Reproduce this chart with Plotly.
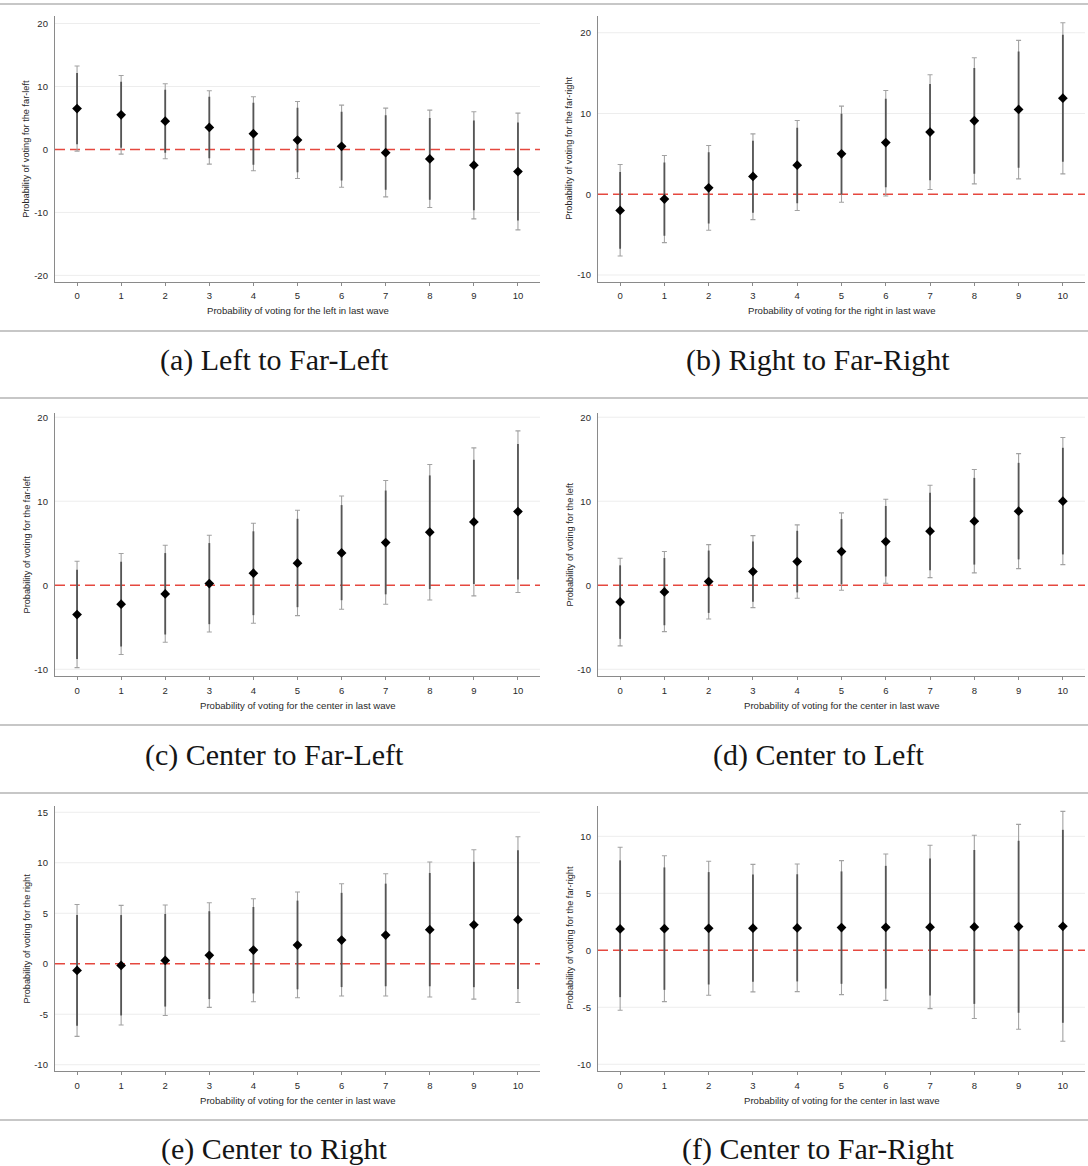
import plotly.graph_objects as go

W, H = 1088, 1166

# ---------------- data ----------------
x_vals = list(range(11))

# (a) Left to Far-Left
a_est  = [6.5, 5.5, 4.5, 3.5, 2.5, 1.5, 0.5, -0.5, -1.5, -2.5, -3.5]
a_hi95 = [13.25, 11.76, 10.44, 9.33, 8.37, 7.63, 7.05, 6.57, 6.25, 5.99, 5.78]
a_lo95 = [-0.26, -0.74, -1.48, -2.33, -3.39, -4.61, -5.99, -7.52, -9.22, -11.02, -12.77]
a_hi90 = [12.16, 10.75, 9.48, 8.39, 7.42, 6.64, 6.0, 5.43, 5.0, 4.62, 4.29]
a_lo90 = [0.83, 0.26, -0.52, -1.39, -2.44, -3.63, -4.94, -6.39, -7.98, -9.65, -11.28]

# (b) Right to Far-Right
b_est  = [-2.0, -0.6, 0.8, 2.2, 3.6, 5.0, 6.4, 7.7, 9.1, 10.5, 11.9]
b_hi95 = [3.68, 4.79, 6.03, 7.48, 9.13, 10.91, 12.85, 14.79, 16.9, 19.05, 21.24]
b_lo95 = [-7.64, -5.99, -4.46, -3.14, -2.02, -0.99, -0.21, 0.58, 1.28, 1.9, 2.52]
b_hi90 = [2.75, 3.93, 5.19, 6.63, 8.24, 9.96, 11.81, 13.65, 15.64, 17.67, 19.74]
b_lo90 = [-6.75, -5.13, -3.61, -2.28, -1.12, -0.03, 0.85, 1.73, 2.54, 3.28, 4.03]

# (c) Center to Far-Left
c_est  = [-3.49, -2.26, -1.03, 0.2, 1.43, 2.62, 3.85, 5.08, 6.31, 7.54, 8.77]
c_hi95 = [2.86, 3.77, 4.76, 5.95, 7.38, 8.93, 10.63, 12.46, 14.37, 16.35, 18.37]
c_lo95 = [-9.8, -8.25, -6.79, -5.56, -4.52, -3.61, -2.86, -2.26, -1.75, -1.27, -0.87]
c_hi90 = [1.84, 2.8, 3.83, 5.02, 6.42, 7.91, 9.54, 11.27, 13.07, 14.93, 16.82]
c_lo90 = [-8.79, -7.29, -5.86, -4.63, -3.56, -2.61, -1.78, -1.08, -0.45, 0.15, 0.68]

# (d) Center to Left
d_est  = [-1.98, -0.79, 0.44, 1.63, 2.82, 4.01, 5.2, 6.43, 7.62, 8.81, 10.0]
d_hi95 = [3.21, 4.01, 4.84, 5.91, 7.18, 8.61, 10.24, 11.9, 13.77, 15.67, 17.58]
d_lo95 = [-7.22, -5.52, -4.01, -2.66, -1.55, -0.6, 0.24, 0.91, 1.47, 1.98, 2.46]
d_hi90 = [2.37, 3.24, 4.13, 5.22, 6.48, 7.87, 9.43, 11.02, 12.78, 14.57, 16.36]
d_lo90 = [-6.38, -4.76, -3.29, -1.97, -0.85, 0.14, 1.04, 1.8, 2.46, 3.08, 3.67]

# (e) Center to Right
e_est  = [-0.66, -0.17, 0.33, 0.83, 1.35, 1.85, 2.34, 2.84, 3.37, 3.86, 4.36]
e_hi95 = [5.87, 5.78, 5.81, 6.04, 6.44, 7.1, 7.92, 8.91, 10.07, 11.29, 12.57]
e_lo95 = [-7.19, -6.07, -5.12, -4.32, -3.76, -3.37, -3.2, -3.2, -3.3, -3.5, -3.83]
e_hi90 = [4.82, 4.82, 4.93, 5.2, 5.62, 6.25, 7.02, 7.93, 8.99, 10.09, 11.25]
e_lo90 = [-6.14, -5.12, -4.24, -3.5, -2.94, -2.53, -2.31, -2.23, -2.23, -2.32, -2.51]

# (f) Center to Far-Right
f_est  = [1.87, 1.9, 1.93, 1.94, 1.96, 1.99, 2.02, 2.03, 2.05, 2.08, 2.1]
f_hi95 = [9.04, 8.3, 7.81, 7.54, 7.57, 7.87, 8.45, 9.21, 10.09, 11.05, 12.19]
f_lo95 = [-5.26, -4.5, -3.95, -3.65, -3.63, -3.89, -4.39, -5.12, -5.99, -6.93, -7.98]
f_hi90 = [7.89, 7.27, 6.86, 6.64, 6.67, 6.92, 7.41, 8.05, 8.8, 9.61, 10.57]
f_lo90 = [-4.11, -3.47, -3.0, -2.75, -2.73, -2.94, -3.36, -3.97, -4.7, -5.48, -6.36]

y_titles = [
    "Probability of voting for the far-left",
    "Probability of voting for the far-right",
    "Probability of voting for the far-left",
    "Probability of voting for the left",
    "Probability of voting for the right",
    "Probability of voting for the far-right",
]
x_titles = [
    "Probability of voting for the left in last wave",
    "Probability of voting for the right in last wave",
    "Probability of voting for the center in last wave",
    "Probability of voting for the center in last wave",
    "Probability of voting for the center in last wave",
    "Probability of voting for the center in last wave",
]
captions = [
    "(a) Left to Far-Left",
    "(b) Right to Far-Right",
    "(c) Center to Far-Left",
    "(d) Center to Left",
    "(e) Center to Right",
    "(f) Center to Far-Right",
]
y_tickvals = [
    [-20, -10, 0, 10, 20],
    [-10, 0, 10, 20],
    [-10, 0, 10, 20],
    [-10, 0, 10, 20],
    [-10, -5, 0, 5, 10, 15],
    [-10, -5, 0, 5, 10],
]
y_ranges = [
    [-21.0, 21.2],
    [-10.83, 22.07],
    [-10.8, 20.5],
    [-10.8, 20.5],
    [-10.62, 15.62],
    [-10.59, 12.66],
]

panels = [
    (a_est, a_lo95, a_hi95, a_lo90, a_hi90),
    (b_est, b_lo95, b_hi95, b_lo90, b_hi90),
    (c_est, c_lo95, c_hi95, c_lo90, c_hi90),
    (d_est, d_lo95, d_hi95, d_lo90, d_hi90),
    (e_est, e_lo95, e_hi95, e_lo90, e_hi90),
    (f_est, f_lo95, f_hi95, f_lo90, f_hi90),
]

# ---------------- layout geometry (pixels) ----------------
col_px = [(55, 540), (598, 1085)]
row_px = [(16, 281.7), (413, 676), (806, 1071)]
caption_y_px = [360, 755, 1149]
caption_x_px = [274, 818]
sep_y_px = [4, 331, 398, 725, 793, 1120]

def px_x(p):
    return p / W

def px_y(p):
    return 1 - p / H

FONT = "Liberation Sans, Arial, Helvetica, sans-serif"
TXT = "#2a2a2a"

fig = go.Figure()
layout_axes = {}
shapes = []
annotations = []

for i, (est, lo95, hi95, lo90, hi90) in enumerate(panels):
    r, c = divmod(i, 2)
    n = i + 1
    xa = "x" if n == 1 else f"x{n}"
    ya = "y" if n == 1 else f"y{n}"
    xkey = "xaxis" if n == 1 else f"xaxis{n}"
    ykey = "yaxis" if n == 1 else f"yaxis{n}"

    # outer (95%) interval with caps
    fig.add_trace(go.Scatter(
        x=x_vals, y=est, mode="markers", marker=dict(size=1, opacity=0),
        error_y=dict(type="data", symmetric=False,
                     array=[h - e for h, e in zip(hi95, est)],
                     arrayminus=[e - l for e, l in zip(est, lo95)],
                     color="#a2a2a2", thickness=1.1, width=2.5),
        xaxis=xa, yaxis=ya, showlegend=False, hoverinfo="skip"))
    # inner (90%) interval, thicker
    fig.add_trace(go.Scatter(
        x=x_vals, y=est, mode="markers", marker=dict(size=1, opacity=0),
        error_y=dict(type="data", symmetric=False,
                     array=[h - e for h, e in zip(hi90, est)],
                     arrayminus=[e - l for e, l in zip(est, lo90)],
                     color="#555555", thickness=1.8, width=0),
        xaxis=xa, yaxis=ya, showlegend=False, hoverinfo="skip"))
    # point estimates
    fig.add_trace(go.Scatter(
        x=x_vals, y=est, mode="markers",
        marker=dict(symbol="diamond", size=7.5, color="black"),
        xaxis=xa, yaxis=ya, showlegend=False))

    x0, x1 = col_px[c]
    ytop, ybot = row_px[r]
    layout_axes[xkey] = dict(
        domain=[px_x(x0), px_x(x1)], range=[-0.5, 10.5], anchor=ya,
        tickmode="array", tickvals=x_vals, ticktext=[str(v) for v in x_vals],
        showline=True, linecolor="#8a8a8a", linewidth=1.3,
        ticks="outside", ticklen=3, tickcolor="#8a8a8a", tickwidth=1,
        showgrid=False, zeroline=False, ticklabelstandoff=2,
        tickfont=dict(family=FONT, size=9.5, color=TXT), fixedrange=True)
    layout_axes[ykey] = dict(
        domain=[px_y(ybot), px_y(ytop)], range=y_ranges[i], anchor=xa,
        tickmode="array", tickvals=y_tickvals[i],
        ticktext=[str(v) for v in y_tickvals[i]],
        showline=True, linecolor="#8a8a8a", linewidth=1.3,
        ticks="", showgrid=False, zeroline=False, ticklabelstandoff=4,
        tickfont=dict(family=FONT, size=9.5, color=TXT), fixedrange=True)

    # faint horizontal gridlines at the labelled ticks (not at zero)
    for tv in y_tickvals[i]:
        if tv != 0:
            shapes.append(dict(type="line", xref=f"{xa} domain", yref=ya,
                               x0=0, x1=1, y0=tv, y1=tv, layer="below",
                               line=dict(color="#ededed", width=1)))

    # red dashed zero reference line
    shapes.append(dict(type="line", xref=f"{xa} domain", yref=ya,
                       x0=0, x1=1, y0=0, y1=0, layer="below",
                       line=dict(color="#e5483f", width=1.6, dash="10px,5px")))

    # axis titles
    annotations.append(dict(
        text=x_titles[i], xref="paper", yref="paper",
        x=px_x((x0 + x1) / 2), y=px_y(ybot + 29), showarrow=False,
        xanchor="center", yanchor="middle",
        font=dict(family=FONT, size=9.6, color=TXT)))
    annotations.append(dict(
        text=y_titles[i], xref="paper", yref="paper",
        x=px_x(x0 - 29), y=px_y((ytop + ybot) / 2), showarrow=False,
        textangle=-90, xanchor="center", yanchor="middle",
        font=dict(family=FONT, size=9.2, color=TXT)))

    # caption
    annotations.append(dict(
        text=captions[i], xref="paper", yref="paper",
        x=px_x(caption_x_px[c]), y=px_y(caption_y_px[r]), showarrow=False,
        xanchor="center", yanchor="middle",
        font=dict(family="Liberation Serif, Times New Roman, serif",
                  size=30, color="#151515")))

for sy in sep_y_px:
    shapes.append(dict(type="line", xref="paper", yref="paper",
                       x0=0, x1=1, y0=px_y(sy), y1=px_y(sy),
                       line=dict(color="#b4b4b4", width=1.5)))

fig.update_layout(
    width=W, height=H, margin=dict(l=0, r=0, t=0, b=0, autoexpand=False),
    paper_bgcolor="white", plot_bgcolor="rgba(0,0,0,0)",
    showlegend=False, shapes=shapes, annotations=annotations,
    **layout_axes)

fig.write_html("out.html", config={"displayModeBar": False},
               post_script="document.body.style.margin='0';document.body.style.overflow='hidden';")
